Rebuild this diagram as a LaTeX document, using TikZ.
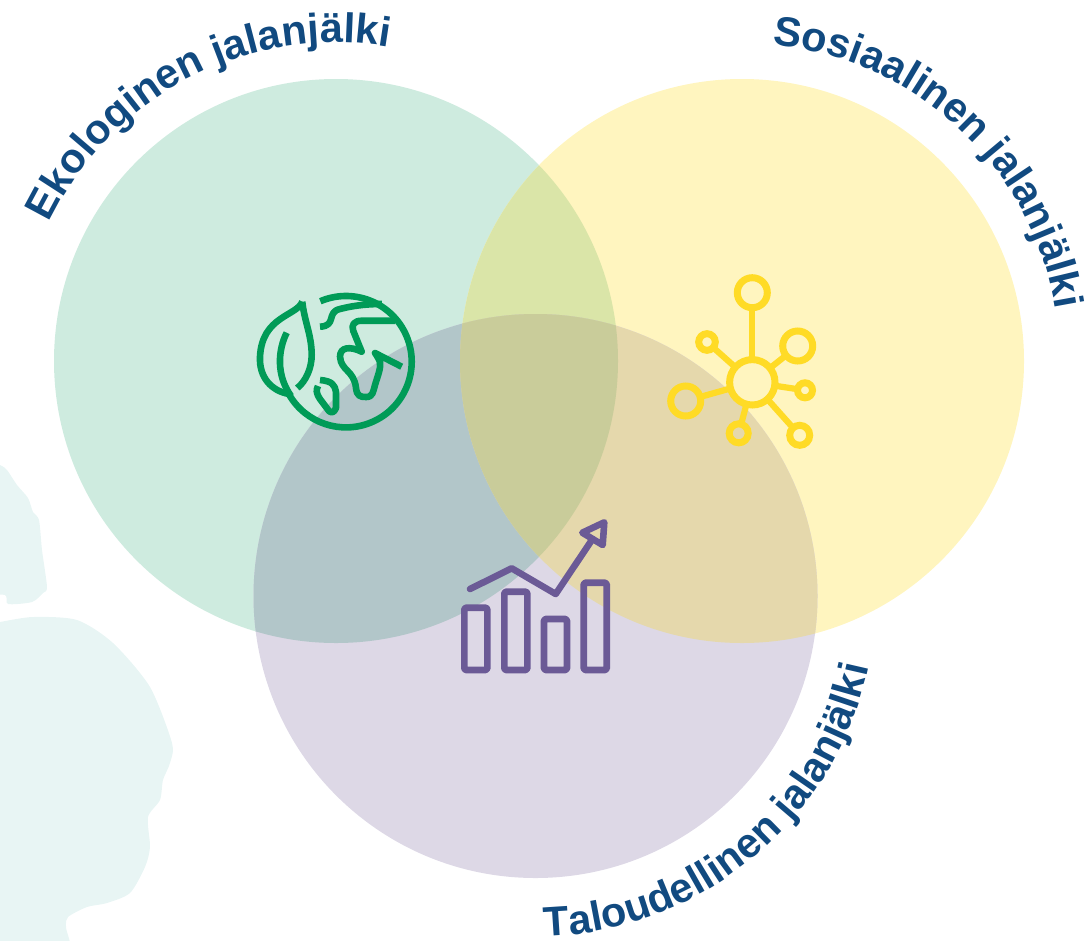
\documentclass[tikz,border=0pt]{standalone}
\usepackage{fontspec}
\setmainfont{Liberation Sans}
\usetikzlibrary{decorations.text}
\definecolor{navy}{HTML}{114A80}
\definecolor{cgreen}{HTML}{CEEBDF}
\definecolor{cyellow}{HTML}{FFF5BF}
\definecolor{cpurple}{HTML}{DDD8E6}
\definecolor{cgy}{HTML}{DAE5A8}
\definecolor{cgp}{HTML}{B2C6C9}
\definecolor{cyp}{HTML}{E5D8AC}
\definecolor{cgyp}{HTML}{C9CC9A}
\definecolor{blob}{HTML}{E8F5F4}
\definecolor{igreen}{HTML}{009B57}
\definecolor{iyellow}{HTML}{FFDB26}
\definecolor{ipurple}{HTML}{6B5A96}
\tikzset{
  greenline/.style={draw=igreen,line width=6.6pt,line cap=butt,line join=round},
  hubline/.style={draw=iyellow,line width=6.2pt},
  hubnode/.style={circle,draw=iyellow,line width=7pt,inner sep=0pt,outer sep=0pt,minimum size=#1},
  purpleline/.style={draw=ipurple,line width=6.6pt,line cap=round,line join=round},
  labeltext/.style 2 args={decorate,decoration={text along path,text align=center,
     text={|\fontsize{#1}{#1}\selectfont\bfseries\color{navy}|#2}}}
}
\newcommand{\cgreenpath}{(336,-361) circle[radius=282]}
\newcommand{\cyellowpath}{(742,-361) circle[radius=282]}
\newcommand{\cpurplepath}{(535.5,-596) circle[radius=282]}
\begin{document}
\begin{tikzpicture}[x=1pt,y=1pt]
\useasboundingbox (0,0) rectangle (1091,-940);
% background blobs
\begin{scope}[y=-1pt]
\fill[blob] plot[smooth,tension=0.45] coordinates {(-20,458) (0,465) (7,470) (17,485) (28,498) (33,512) (39,520) (42,550) (47,587) (43,593) (32,602) (8,604) (5,595) (-20,595)} -- cycle;
\fill[blob] plot[smooth,tension=0.45] coordinates {(-20,626) (0,622) (33,617) (77,620) (113,643) (150,687) (172,743) (170,763) (163,780) (160,800) (148,817) (150,847) (145,867) (130,893) (107,903) (87,907) (68,917) (66,927) (67,960) (-20,960)} -- cycle;
\end{scope}
% the three circles and their overlaps
\fill[cgreen] \cgreenpath;
\fill[cyellow] \cyellowpath;
\fill[cpurple] \cpurplepath;
\begin{scope}\clip \cgreenpath; \fill[cgy] \cyellowpath; \end{scope}
\begin{scope}\clip \cgreenpath; \fill[cgp] \cpurplepath; \end{scope}
\begin{scope}\clip \cyellowpath; \fill[cyp] \cpurplepath; \end{scope}
\begin{scope}\clip \cgreenpath; \clip \cyellowpath; \fill[cgyp] \cpurplepath; \end{scope}
% curved labels
\path[labeltext={41.5}{Ekologinen jalanjälki}] (336,-361) ++(170:318.5) arc[start angle=170,end angle=64.6,radius=318.5];
\path[labeltext={41.5}{Sosiaalinen jalanjälki}] (742,-361) ++(100:318) arc[start angle=100,end angle=-6.2,radius=318];
\path[labeltext={41.5}{Taloudellinen jalanjälki}] (535.5,-596) ++(-110:340.5) arc[start angle=-110,end angle=9.6,radius=340.5];
% globe icon
\draw[greenline] (346,-361.7) ++(113:65.7) arc[start angle=113,end angle=-150,radius=65.7];
\begin{scope}[y=-1pt]
\draw[greenline] (302.3,301.7) .. controls (297,316) and (262,316) .. (260,356.7) .. controls (259,378) and (272,391) .. (289,394);
\draw[greenline,line join=miter] (302.3,301.7) .. controls (304,320) and (311.7,335) .. (311.7,355) .. controls (311.7,368) and (306,381) .. (297.3,388);
\draw[greenline] (286.7,332.7) .. controls (278,350) and (276,375) .. (291,396);
\draw[greenline] (320,326.7) .. controls (337,326) and (326,312) .. (340,309) .. controls (355,305) and (370,304) .. (382,304);
\draw[greenline] (395,320.7) -- (362,320.7) .. controls (354,320.7) and (351,325) .. (353.3,331) -- (361.7,351.7) .. controls (350,346) and (340,347) .. (340,356.7) .. controls (341,371) and (354,370) .. (356,388) .. controls (357,396) and (360,397) .. (366,397) .. controls (373,397) and (373,392) .. (375,385) .. controls (378,375) and (381,368) .. (380,362) .. controls (378,357) and (375,353) .. (375,353) -- (401.7,366.7);
\draw[greenline] (320,380) .. controls (332,381) and (335,385) .. (336,392) -- (336,408) .. controls (334,413) and (331,413) .. (329,411) -- (320,399) .. controls (316,393) and (316,390) .. (318,386);
% network icon
\node[hubnode=45.4pt] (hub) at (752.3,382.3) {};
\node[hubnode=30pt] (n1) at (752.3,292.7) {};
\node[hubnode=30pt] (n2) at (797.7,346) {};
\node[hubnode=15pt] (n3) at (805,390.3) {};
\node[hubnode=20pt] (n4) at (799.7,435.3) {};
\node[hubnode=19pt] (n5) at (738.7,433.3) {};
\node[hubnode=30pt] (n6) at (685.7,401) {};
\node[hubnode=16.6pt] (n7) at (707,342) {};
\foreach \n in {n1,n2,n3,n4,n5,n6,n7} \draw[hubline] (hub) -- (\n);
% bar chart icon
\draw[purpleline,rounded corners=1.5pt] (464.3,607.7) rectangle (487.3,670);
\draw[purpleline,rounded corners=1.5pt] (504.3,591.7) rectangle (527.3,670);
\draw[purpleline,rounded corners=1.5pt] (544,619) rectangle (567,670);
\draw[purpleline,rounded corners=1.5pt] (583.7,582.7) rectangle (606.7,670);
\coordinate (p0) at (470,589);
\coordinate (p1) at (511.7,568.3);
\coordinate (p2) at (555.7,594);
\coordinate (p3) at (592.5,539);
\coordinate (t1) at (582.3,532.7);
\coordinate (t2) at (604.3,522.3);
\coordinate (t3) at (602.7,545);
\draw[purpleline] (p0) -- (p1) -- (p2) -- (p3);
\draw[purpleline] (t1) -- (t2) -- (t3) -- cycle;
\end{scope}
\end{tikzpicture}
\end{document}
